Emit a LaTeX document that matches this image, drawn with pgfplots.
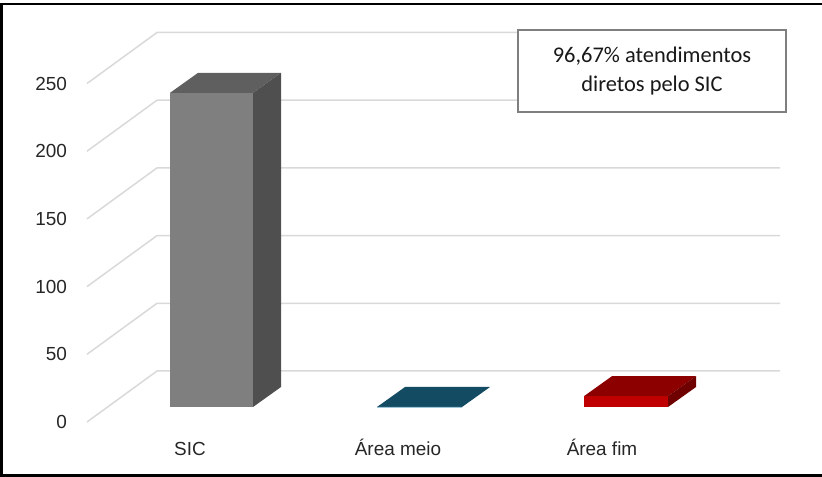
\documentclass[border=0pt]{standalone}
\usepackage{fontspec}
\setmainfont{Liberation Sans}
\newfontfamily\carlito{Carlito}
\usepackage{pgfplots}
\pgfplotsset{compat=1.18}
\definecolor{gridc}{HTML}{D9D9D9}
\definecolor{sicfront}{HTML}{7F7F7F}
\definecolor{sictop}{HTML}{5F5F5F}
\definecolor{sicside}{HTML}{4F4F4F}
\definecolor{meiotop}{HTML}{134B63}
\definecolor{meioedge}{HTML}{6AA4BE}
\definecolor{fimfront}{HTML}{C00000}
\definecolor{fimtop}{HTML}{8C0000}
\definecolor{fimside}{HTML}{6E0000}
\definecolor{boxc}{HTML}{7F7F7F}
\begin{document}
\begin{tikzpicture}
\begin{axis}[
  at={(0,0)}, anchor=south west,
  scale only axis, width=822bp, height=477bp,
  xmin=0, xmax=822, ymin=-51.70, ymax=300.59,
  axis line style={draw=none}, major tick length=0pt,
  clip=false,
  ytick={-11.08,38.92,88.92,138.92,188.92,238.92},
  yticklabels={0,50,100,150,200,250},
  yticklabel style={anchor=east, xshift=70.5bp, font=\fontsize{19}{22}\selectfont, text=black!85},
  xtick={190,398,602},
  xticklabels={SIC,Área meio,Área fim},
  xticklabel style={anchor=base, yshift=22bp, font=\fontsize{19}{22}\selectfont, text=black!85},
]
% perspective gridlines (value v: front at (87,v-11.08), back at (157,v+26.59))
\addplot[gridc, line width=1.5bp] coordinates {(87,-11.08) (157,26.59) (780,26.59)};
\addplot[gridc, line width=1.5bp] coordinates {(87,38.92) (157,76.59) (780,76.59)};
\addplot[gridc, line width=1.5bp] coordinates {(87,88.92) (157,126.59) (780,126.59)};
\addplot[gridc, line width=1.5bp] coordinates {(87,138.92) (157,176.59) (780,176.59)};
\addplot[gridc, line width=1.5bp] coordinates {(87,188.92) (157,226.59) (780,226.59)};
\addplot[gridc, line width=1.5bp] coordinates {(87,238.92) (157,276.59) (780,276.59)};
% SIC = 232
\addplot[ybar, bar shift=0pt, bar width=83, fill=sicfront, draw=none] coordinates {(211.5,232)};
\addplot[fill=sictop, draw=none] coordinates {(170,232) (253,232) (281,246.77) (198,246.77)} --cycle;
\addplot[fill=sicside, draw=none] coordinates {(253,0) (281,14.77) (281,246.77) (253,232)} --cycle;
% Area meio = 0
\addplot[fill=meiotop, draw=none] coordinates {(377,0) (462,0) (490,14.77) (405,14.77)} --cycle;
\addplot[ybar, bar shift=0pt, bar width=85, fill=meioedge, draw=meioedge, line width=0.8bp] coordinates {(419.5,0)};
% Area fim = 8
\addplot[ybar, bar shift=0pt, bar width=84, fill=fimfront, draw=none] coordinates {(626,8)};
\addplot[fill=fimtop, draw=none] coordinates {(584,8) (668,8) (696,22.77) (612,22.77)} --cycle;
\addplot[fill=fimside, draw=none] coordinates {(668,0) (696,14.77) (696,22.77) (668,8)} --cycle;
% annotation box
\node[draw=boxc, line width=1.8bp, fill=white, minimum width=268bp, minimum height=82bp,
      align=center, font=\carlito\fontsize{22.5}{30}\selectfont, text=black!90, inner sep=0pt]
  at (axis cs:652,248.15) {96,67\% atendimentos\\diretos pelo SIC};
% outer frame
\draw[black, line width=2.5bp] (axis cs:822,297.78) -- (axis cs:1.3,297.78) -- (axis cs:1.3,-50.59) -- (axis cs:822,-50.59);
\end{axis}
\pgfresetboundingbox
\path (0,0) rectangle (822bp,477bp);
\end{tikzpicture}
\end{document}
